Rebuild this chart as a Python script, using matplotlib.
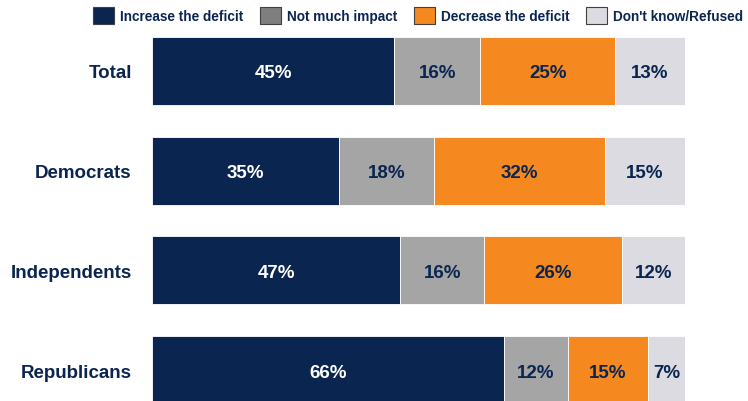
import matplotlib.pyplot as plt
from matplotlib.patches import Patch

plt.rcParams['font.family'] = ['Liberation Sans', 'DejaVu Sans']

groups = ['Total', 'Democrats', 'Independents', 'Republicans']
series = ['Increase the deficit', 'Not much impact', 'Decrease the deficit', "Don't know/Refused"]
increase = [45, 35, 47, 66]
no_impact = [16, 18, 16, 12]
decrease = [25, 32, 26, 15]
dont_know = [13, 15, 12, 7]

colors = ['#0a2550', '#a5a5a5', '#f5891f', '#dcdbe2']
legend_colors = ['#0a2550', '#7f7f7f', '#f5891f', '#dcdbe2']
text_colors = ['white', '#0a2550', '#0a2550', '#0a2550']
navy = '#0a2550'

fig = plt.figure(figsize=(7.48, 4.02), dpi=100)
ax = fig.add_axes([152 / 748, 0, 533 / 748, 1])

values = [increase, no_impact, decrease, dont_know]
# each row drawn as share of its own total (rounded values don't sum to 100)
totals = [sum(col) for col in zip(*values)]
y = list(range(len(groups)))
left = [0] * len(groups)
for k, vals in enumerate(values):
    widths = [v / t * 100 for v, t in zip(vals, totals)]
    ax.barh(y, widths, left=left, height=0.68, color=colors[k], edgecolor='white', linewidth=0.6)
    for i, v in enumerate(vals):
        ax.text(left[i] + widths[i] / 2, i, f'{v}%', ha='center', va='center_baseline',
                color=text_colors[k], fontsize=13.5, fontweight='bold')
    left = [l + w for l, w in zip(left, widths)]

ax.set_xlim(0, 100)
ax.set_ylim(3.31, -0.722)
ax.set_yticks(y)
ax.set_yticklabels(groups, fontsize=13.5, fontweight='bold', color=navy)
ax.tick_params(axis='y', length=0, pad=14.5)
ax.set_xticks([])
for s in ax.spines.values():
    s.set_visible(False)

handles = [Patch(facecolor=c, edgecolor='#404040', linewidth=0.8) for c in legend_colors]
fig.legend(handles, series, loc='upper right', bbox_to_anchor=(1.01, 1.01), ncol=4,
           frameon=False, prop={'size': 9.8, 'weight': 'bold'}, labelcolor=navy,
           handlelength=1.55, handleheight=1.55, columnspacing=1.2, handletextpad=0.45)

fig.savefig('out.png', dpi=100)
